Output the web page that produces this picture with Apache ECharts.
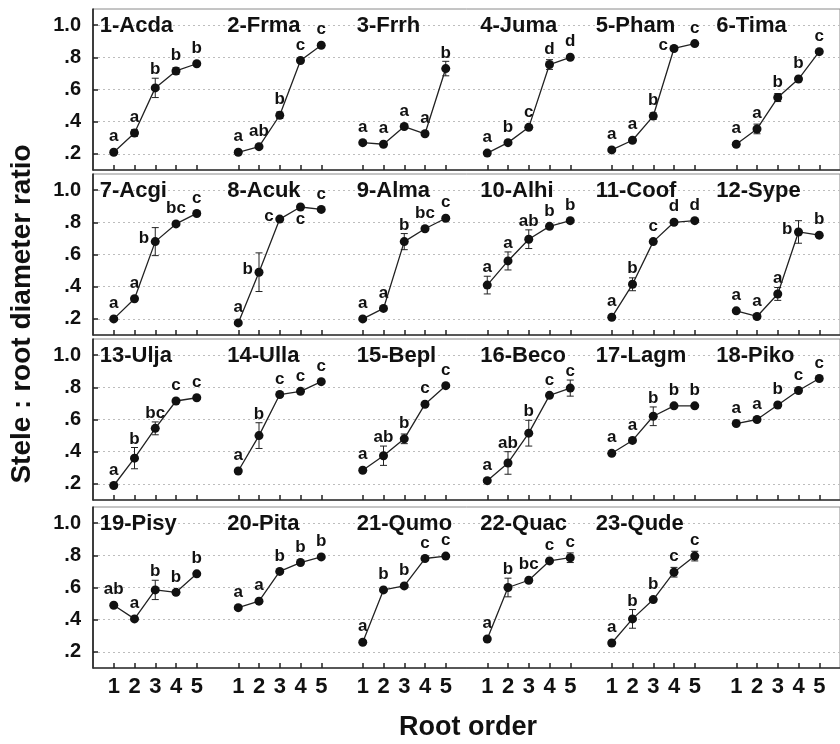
<!DOCTYPE html>
<html>
<head>
<meta charset="utf-8">
<script src="https://cdn.jsdelivr.net/npm/echarts@6/dist/echarts.min.js"></script>
<style>
    html, body { margin: 0; padding: 0; background: #fff; }
    #chart { width: 840px; height: 744px; }
</style>
</head>
<body>
<div id="chart"></div>
<script>
var speciesNames = ['1-Acda', '2-Frma', '3-Frrh', '4-Juma', '5-Pham', '6-Tima',
    '7-Acgi', '8-Acuk', '9-Alma', '10-Alhi', '11-Coof', '12-Sype',
    '13-Ulja', '14-Ulla', '15-Bepl', '16-Beco', '17-Lagm', '18-Piko',
    '19-Pisy', '20-Pita', '21-Qumo', '22-Quac', '23-Qude'];
var rootOrders = ['1', '2', '3', '4', '5'];
var yTickValues = [0.2, 0.4, 0.6, 0.8, 1.0];

// mean stele : root diameter ratio, root order 1..5
var ratioMeans = [
    [0.21, 0.33, 0.61, 0.715, 0.76],
    [0.21, 0.245, 0.44, 0.78, 0.875],
    [0.27, 0.26, 0.37, 0.325, 0.73],
    [0.205, 0.27, 0.365, 0.755, 0.80],
    [0.225, 0.285, 0.435, 0.855, 0.885],
    [0.26, 0.355, 0.55, 0.665, 0.835],
    [0.20, 0.325, 0.68, 0.79, 0.855],
    [0.175, 0.49, 0.82, 0.895, 0.88],
    [0.20, 0.265, 0.68, 0.76, 0.825],
    [0.41, 0.56, 0.695, 0.775, 0.81],
    [0.21, 0.415, 0.68, 0.80, 0.81],
    [0.25, 0.215, 0.355, 0.74, 0.72],
    [0.19, 0.36, 0.545, 0.715, 0.735],
    [0.28, 0.50, 0.755, 0.775, 0.835],
    [0.285, 0.375, 0.48, 0.695, 0.81],
    [0.22, 0.33, 0.515, 0.75, 0.795],
    [0.39, 0.47, 0.62, 0.685, 0.685],
    [0.575, 0.60, 0.69, 0.78, 0.855],
    [0.49, 0.405, 0.585, 0.57, 0.685],
    [0.475, 0.515, 0.70, 0.755, 0.79],
    [0.26, 0.585, 0.61, 0.78, 0.795],
    [0.28, 0.60, 0.645, 0.765, 0.785],
    [0.255, 0.405, 0.525, 0.695, 0.795]
];

// standard errors
var ratioErrors = [
    [0.01, 0.02, 0.06, 0.02, 0.01],
    [0.01, 0.01, 0.02, 0.01, 0.01],
    [0.01, 0.01, 0.01, 0.01, 0.045],
    [0.01, 0.01, 0.01, 0.03, 0.01],
    [0.01, 0.01, 0.02, 0.01, 0.01],
    [0.01, 0.03, 0.025, 0.01, 0.01],
    [0.01, 0.01, 0.087, 0.01, 0.01],
    [0.01, 0.12, 0.01, 0.01, 0.01],
    [0.01, 0.01, 0.05, 0.01, 0.01],
    [0.055, 0.056, 0.058, 0.01, 0.01],
    [0.01, 0.04, 0.01, 0.01, 0.01],
    [0.01, 0.01, 0.04, 0.07, 0.01],
    [0.01, 0.066, 0.04, 0.01, 0.01],
    [0.01, 0.08, 0.01, 0.01, 0.01],
    [0.01, 0.06, 0.03, 0.01, 0.01],
    [0.01, 0.07, 0.08, 0.01, 0.05],
    [0.01, 0.01, 0.058, 0.01, 0.01],
    [0.01, 0.01, 0.01, 0.01, 0.01],
    [0.01, 0.01, 0.06, 0.01, 0.01],
    [0.01, 0.01, 0.01, 0.01, 0.01],
    [0.01, 0.01, 0.01, 0.01, 0.01],
    [0.01, 0.058, 0.01, 0.01, 0.03],
    [0.01, 0.058, 0.01, 0.03, 0.03]
];

var groupLetters = [
    ['a', 'a', 'b', 'b', 'b'],
    ['a', 'ab', 'b', 'c', 'c'],
    ['a', 'a', 'a', 'a', 'b'],
    ['a', 'b', 'c', 'd', 'd'],
    ['a', 'a', 'b', 'c', 'c'],
    ['a', 'a', 'b', 'b', 'c'],
    ['a', 'a', 'b', 'bc', 'c'],
    ['a', 'b', 'c', 'c', 'c'],
    ['a', 'a', 'b', 'bc', 'c'],
    ['a', 'a', 'ab', 'b', 'b'],
    ['a', 'b', 'c', 'd', 'd'],
    ['a', 'a', 'a', 'b', 'b'],
    ['a', 'b', 'bc', 'c', 'c'],
    ['a', 'b', 'c', 'c', 'c'],
    ['a', 'ab', 'b', 'c', 'c'],
    ['a', 'ab', 'b', 'c', 'c'],
    ['a', 'a', 'b', 'b', 'b'],
    ['a', 'a', 'b', 'c', 'c'],
    ['ab', 'a', 'b', 'b', 'b'],
    ['a', 'a', 'b', 'b', 'b'],
    ['a', 'b', 'b', 'c', 'c'],
    ['a', 'b', 'bc', 'c', 'c'],
    ['a', 'b', 'b', 'c', 'c']
];

// layout
var perRow = 6;
var rowTops = [9, 174, 339, 507];
var rowHeight = 161;
var titleShift = [-14, -11, -6, -7, -16, -20];
var letterSide = { '5-4': 'left', '7-3': 'left', '8-2': 'left', '8-3': 'left', '8-4': 'below', '12-4': 'left' };
var fontFamily = '"Liberation Sans", Arial, Helvetica, sans-serif';

// x categories: a blank slot, then 1..5 and a blank slot for every panel
var xCats = [''];
for (var g = 0; g < perRow; g++) {
    xCats = xCats.concat(rootOrders);
    xCats.push('');
}
function isTick(index, value) { return value !== ''; }
function xIndex(s, k) { return 1 + (s % perRow) * (rootOrders.length + 1) + k; }

var grids = [], xAxes = [], yAxes = [], series = [];
rowTops.forEach(function(top, r) {
    var last = r === rowTops.length - 1;
    grids.push({
        left: 93, right: -10, top: top, height: rowHeight,
        show: true, borderColor: '#8a8a8a', borderWidth: 1
    });
    xAxes.push({
        gridIndex: r,
        type: 'category',
        data: xCats,
        boundaryGap: false,
        axisLine: { lineStyle: { color: '#333', width: 1.5 } },
        axisTick: { inside: true, length: 5, interval: isTick, lineStyle: { color: '#222', width: 1.5 } },
        axisLabel: {
            show: last, interval: isTick, margin: 8,
            color: '#111', fontSize: 22, fontWeight: 'bold', fontFamily: fontFamily
        },
        splitLine: { show: false }
    });
    yAxes.push({
        gridIndex: r,
        type: 'value',
        min: 0.1, max: 1.1,
        axisLine: { show: true, lineStyle: { color: '#111', width: 1.5 } },
        axisTick: { show: true, inside: true, length: 5, customValues: yTickValues, lineStyle: { color: '#222', width: 1.5 } },
        axisLabel: {
            customValues: yTickValues, margin: 12,
            color: '#111', fontSize: 20, fontWeight: 'bold', fontFamily: fontFamily,
            formatter: function(v) { return v.toFixed(1).replace(/^0/, ''); }
        },
        splitLine: { show: true, lineStyle: { color: '#bdbdbd', type: [2, 3], width: 1 } }
    });
});

function barRenderer(s) {
    return function(params, api) {
        var k = params.dataIndex;
        var x = api.value(0), m = api.value(1), e = api.value(2);
        var pt = api.coord([x, m]);
        var hi = api.coord([x, m + e]);
        var lo = api.coord([x, m - e]);
        var cap = 3.5;
        var st = { stroke: '#222', lineWidth: 1 };
        var kids = [
            { type: 'line', shape: { x1: pt[0], y1: hi[1], x2: pt[0], y2: lo[1] }, style: st },
            { type: 'line', shape: { x1: pt[0] - cap, y1: hi[1], x2: pt[0] + cap, y2: hi[1] }, style: st },
            { type: 'line', shape: { x1: pt[0] - cap, y1: lo[1], x2: pt[0] + cap, y2: lo[1] }, style: st }
        ];
        var side = letterSide[(s + 1) + '-' + (k + 1)];
        var ls = { text: groupLetters[s][k], font: 'bold 17px ' + fontFamily, fill: '#111' };
        if (side === 'left') {
            ls.x = pt[0] - 6; ls.y = pt[1] - 3; ls.align = 'right'; ls.verticalAlign = 'middle';
        } else if (side === 'below') {
            ls.x = pt[0]; ls.y = pt[1] + 4; ls.align = 'center'; ls.verticalAlign = 'top';
        } else {
            ls.x = pt[0]; ls.y = Math.min(pt[1] - 7, hi[1]); ls.align = 'center'; ls.verticalAlign = 'bottom';
        }
        kids.push({ type: 'text', z2: 5, style: ls });
        if (k === 0) {
            var tp = api.coord([x, 1.0]);
            kids.push({
                type: 'text', z2: 5,
                style: {
                    text: speciesNames[s], x: tp[0] + titleShift[s % perRow], y: tp[1] + 1,
                    align: 'left', verticalAlign: 'middle',
                    font: 'bold 22px ' + fontFamily, fill: '#111'
                }
            });
        }
        return { type: 'group', children: kids };
    };
}

speciesNames.forEach(function(name, s) {
    var r = Math.floor(s / perRow);
    var pts = rootOrders.map(function(o, k) {
        return [xIndex(s, k), ratioMeans[s][k], ratioErrors[s][k]];
    });
    series.push({
        name: name,
        type: 'custom',
        xAxisIndex: r, yAxisIndex: r,
        data: pts,
        renderItem: barRenderer(s),
        z: 2
    });
    series.push({
        name: name,
        type: 'line',
        xAxisIndex: r, yAxisIndex: r,
        data: pts.map(function(p) { return [p[0], p[1]]; }),
        symbol: 'circle',
        symbolSize: 9,
        itemStyle: { color: '#111' },
        lineStyle: { color: '#222', width: 1.3 },
        animation: false,
        z: 3
    });
});

var myChart = echarts.init(document.getElementById('chart'));
var option = {
    backgroundColor: '#fff',
    animation: false,
    grid: grids,
    xAxis: xAxes,
    yAxis: yAxes,
    series: series,
    graphic: [
        {
            type: 'text', x: 22, y: 314, rotation: Math.PI / 2,
            style: {
                text: 'Stele : root diameter ratio', align: 'center', verticalAlign: 'middle',
                font: 'bold 28px ' + fontFamily, fill: '#111'
            }
        },
        {
            type: 'text', x: 468, y: 728,
            style: {
                text: 'Root order', align: 'center', verticalAlign: 'middle',
                font: 'bold 27px ' + fontFamily, fill: '#111'
            }
        }
    ]
};
myChart.setOption(option);
</script>
</body>
</html>
